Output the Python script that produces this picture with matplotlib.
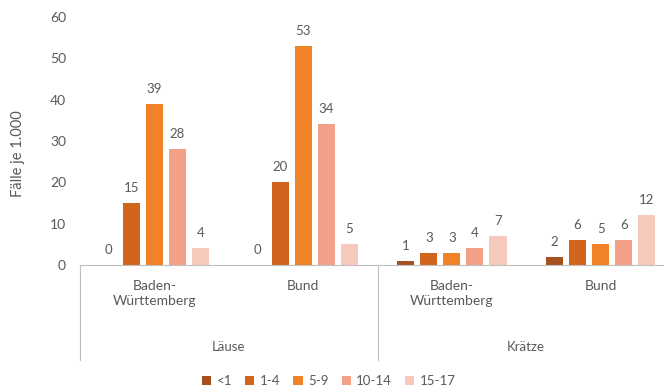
import matplotlib.pyplot as plt
import numpy as np

plt.rcParams['font.family'] = ['Lato', 'DejaVu Sans']

# Fälle je 1.000 nach Altersgruppe
regions = ['Baden-\nWürttemberg', 'Bund', 'Baden-\nWürttemberg', 'Bund']
diseases = ['Läuse', 'Krätze']
age_groups = ['<1', '1-4', '5-9', '10-14', '15-17']
lt1 = [0, 0, 1, 2]
a1_4 = [15, 20, 3, 6]
a5_9 = [39, 53, 3, 5]
a10_14 = [28, 34, 4, 6]
a15_17 = [4, 5, 7, 12]

colors = ['#A5501F', '#D2651E', '#F08228', '#F2A088', '#F7C8BC']
grey = '#595959'

fig = plt.figure(figsize=(6.64, 3.92), dpi=100)
ax = fig.add_axes([80 / 664, 1 - 265 / 392, 595 / 664, 248 / 392])

x = np.arange(len(regions))
step = 0.155
width = 0.115
series = [lt1, a1_4, a5_9, a10_14, a15_17]
for i, (vals, col, lab) in enumerate(zip(series, colors, age_groups)):
    pos = x + (i - 2) * step
    ax.bar(pos, vals, width, color=col, label=lab)
    for p, v in zip(pos, vals):
        ax.text(p, v + 2.2, str(v), ha='center', va='bottom', fontsize=9.5, color=grey)

ax.set_xlim(-0.5, 3.5)
ax.set_ylim(0, 60)
ax.set_yticks(range(0, 61, 10))
ax.tick_params(axis='y', length=0, labelsize=10, labelcolor=grey, pad=10)
ax.set_xticks([])
for s in ['top', 'right', 'left']:
    ax.spines[s].set_visible(False)
ax.spines['bottom'].set_color('#BFBFBF')
ax.set_ylabel('Fälle je 1.000', fontsize=10.5, color=grey)
ax.yaxis.set_label_coords(-0.093, 0.45)

# zweistufige Kategorienachse
tr = ax.get_xaxis_transform()
for b in [-0.5, 1.5, 3.5]:
    ax.plot([b, b], [0, -0.385], transform=tr, color='#BFBFBF', lw=0.8, clip_on=False)
for xi, r in zip(x, regions):
    ax.text(xi, -0.06, r, transform=tr, ha='center', va='top', fontsize=10,
            color=grey, linespacing=1.3)
for k, d in enumerate(diseases):
    ax.text(2 * k + 0.5, -0.33, d, transform=tr, ha='center', va='center',
            fontsize=9.5, color=grey)

fig.legend(loc='center', bbox_to_anchor=(0.495, 0.028), ncol=5, frameon=False,
           fontsize=9.5, handlelength=0.7, handleheight=0.7, handletextpad=0.4,
           columnspacing=1.0, labelcolor=grey)

fig.savefig('out.png', dpi=100)
